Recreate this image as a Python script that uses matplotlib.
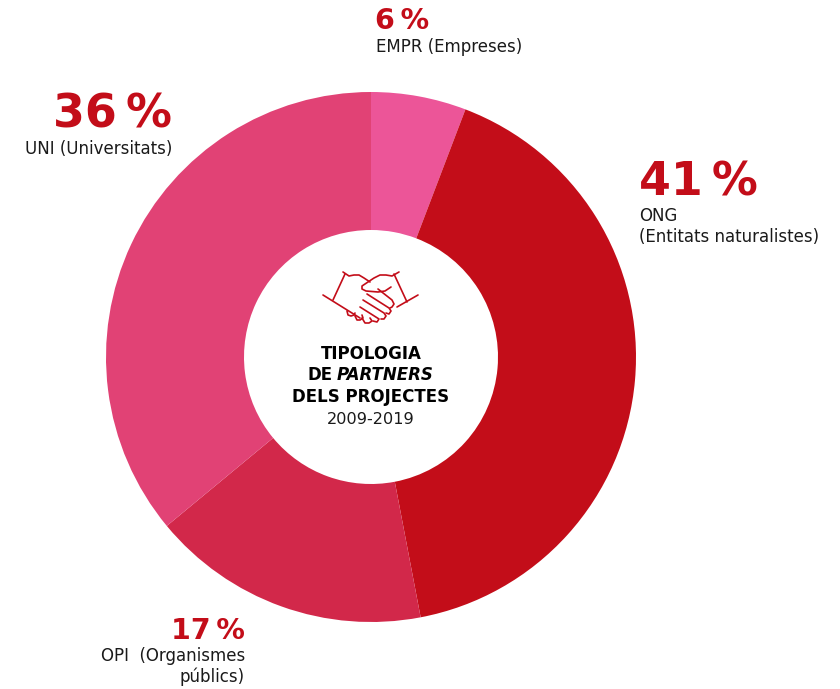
import matplotlib
matplotlib.use("Agg")
import matplotlib.pyplot as plt

# dades
etiquetes = ['EMPR', 'ONG', 'OPI', 'UNI']
valors = [5.8, 41.2, 17, 36]
percentatges = ['6\u2009%', '41\u2009%', '17\u2009%', '36\u2009%']
colors = ['#EC5598', '#C30D19', '#D2284A', '#E14275']

W, H = 840, 689
VERMELL = '#C30D19'
NEGRE = '#1A1A1A'
plt.rcParams['font.family'] = ['DejaVu Sans']


# la imatge de referència es mesura en píxels, amb y cap avall
def py(y):
    return H - y


fig = plt.figure(figsize=(W / 100, H / 100), dpi=100)
ax = fig.add_axes([0, 0, 1, 1])

ax.pie(valors, colors=colors, startangle=90, counterclock=False,
       center=(371, py(357)), radius=265,
       wedgeprops={'width': 265 - 127, 'edgecolor': 'none'})
ax.set_xlim(0, W)
ax.set_ylim(0, H)
ax.set_aspect('equal')
ax.axis('off')

########## percentatges ##########
GRAN, PETIT, ETIQ = 33, 20.5, 12
ax.text(172, py(115), percentatges[3], color=VERMELL, fontsize=GRAN, fontweight='bold',
        ha='right', va='center')
ax.text(172, py(149), 'UNI (Universitats)', color=NEGRE, fontsize=ETIQ, ha='right', va='center')

ax.text(375, py(21), percentatges[0], color=VERMELL, fontsize=PETIT, fontweight='bold',
        ha='left', va='center')
ax.text(376, py(47), 'EMPR (Empreses)', color=NEGRE, fontsize=ETIQ, ha='left', va='center')

ax.text(639, py(183), percentatges[1], color=VERMELL, fontsize=GRAN, fontweight='bold',
        ha='left', va='center')
ax.text(639, py(216), 'ONG', color=NEGRE, fontsize=ETIQ, ha='left', va='center')
ax.text(639, py(237), '(Entitats naturalistes)', color=NEGRE, fontsize=ETIQ, ha='left', va='center')

ax.text(245, py(631), percentatges[2], color=VERMELL, fontsize=PETIT, fontweight='bold',
        ha='right', va='center')
ax.text(245, py(656), 'OPI  (Organismes', color=NEGRE, fontsize=ETIQ, ha='right', va='center')
ax.text(245, py(677), 'públics)', color=NEGRE, fontsize=ETIQ, ha='right', va='center')

########## text central ##########
CENTRE = 12
ax.text(371, py(354), 'TIPOLOGIA', color='black', fontsize=CENTRE, fontweight='bold',
        ha='center', va='center')
ax.text(333, py(375), 'DE', color='black', fontsize=CENTRE, fontweight='bold',
        ha='right', va='center')
ax.text(337, py(375), 'PARTNERS', color='black', fontsize=CENTRE, fontweight='bold',
        style='italic', ha='left', va='center')
ax.text(371, py(397), 'DELS PROJECTES', color='black', fontsize=CENTRE, fontweight='bold',
        ha='center', va='center')
ax.text(371, py(419), '2009-2019', color=NEGRE, fontsize=11.6, ha='center', va='center')

########## icona de les mans ##########
traços = [
    # braç esquerre
    [(323, 295), (360, 318)],
    [(345, 274), (333, 300)],
    [(343, 272), (349, 276), (354, 275), (359, 275), (364, 278), (370, 282)],
    # braç dret
    [(418, 295), (397, 307)],
    [(394, 274), (407, 302)],
    [(399, 272), (392, 276), (386, 275), (380, 275), (374, 278), (362, 286), (362, 289),
     (366, 291), (378, 292), (385, 291), (391, 287)],
    # dits
    [(378, 289), (392, 300), (394, 304), (392, 307), (390, 308)],
    [(367, 294), (389, 308), (391, 311), (389, 314), (386, 313)],
    [(363, 300), (384, 313), (386, 316), (384, 319), (381, 319)],
    [(360, 307), (379, 319), (377, 322), (373, 321)],
    # boletes de la mà de sota
    [(347, 311), (348, 315), (351, 316), (354, 315), (355, 313)],
    [(355, 316), (357, 320), (360, 320), (363, 318), (362, 315)],
    [(362, 318), (365, 323), (369, 323), (372, 321), (370, 318)],
]
for t in traços:
    ax.plot([p[0] for p in t], [py(p[1]) for p in t], color=VERMELL, lw=1.2,
            solid_capstyle='round', solid_joinstyle='round')

fig.savefig('out.png', dpi=100)
